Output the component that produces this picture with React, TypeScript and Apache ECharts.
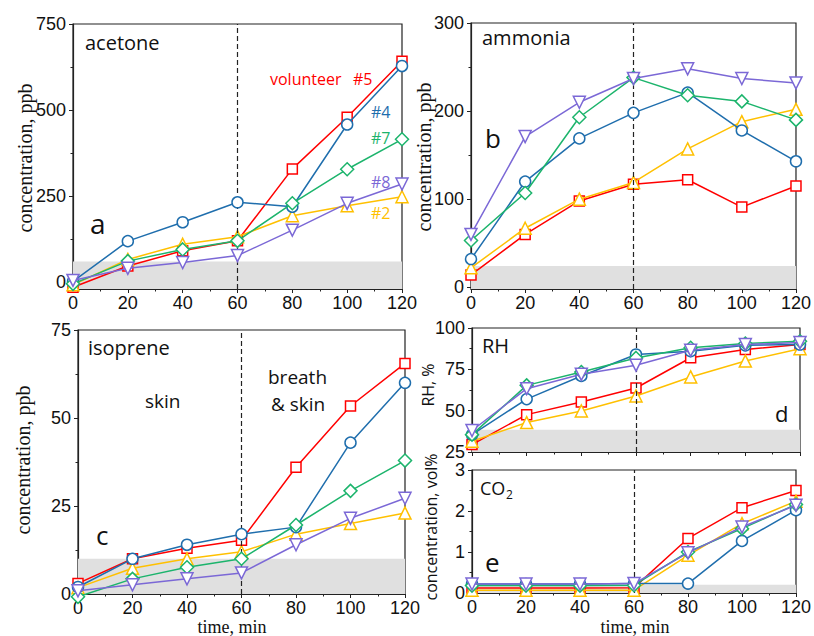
import React, { useEffect, useRef } from "react";
import * as echarts from "echarts";

const times = [0, 20, 40, 60, 80, 100, 120];
const xTicks = [0, 20, 40, 60, 80, 100, 120];

const volunteers = ["#5", "#2", "#4", "#7", "#8"];
const colors = ["#FF0000", "#FFC000", "#1F6EAD", "#1CB46C", "#7B68D6"];
const symbols = ["rect", "triangle", "circle", "diamond", "triangle"];
const symbolRot = [0, 0, 0, 0, 180];
const symbolSizes = [10, 12, 11, 13, 12];

// acetone, ppb
const acetone5 = [-15, 47, 91, 120, 329, 479, 642];
const acetone2 = [-8, 66, 110, 132, 193, 222, 248];
const acetone4 = [2, 119, 174, 232, 219, 458, 628];
const acetone7 = [-5, 61, 95, 120, 229, 328, 415];
const acetone8 = [5, 40, 57, 77, 151, 229, 285];

// ammonia, ppb
const ammonia5 = [14, 60, 98, 117, 122, 91, 115];
const ammonia2 = [22, 67, 100, 119, 157, 188, 202];
const ammonia4 = [32, 120, 169, 198, 221, 178, 143];
const ammonia7 = [53, 107, 193, 238, 218, 211, 190];
const ammonia8 = [60, 171, 210, 237, 248, 237, 232];

// isoprene, ppb
const isoprene5 = [3, 10, 13, 15.3, 36, 53.4, 65.5];
const isoprene2 = [1.8, 7.3, 10, 12, 17, 20, 23];
const isoprene4 = [2, 10, 14, 17, 19, 43, 60];
const isoprene7 = [-0.8, 4.3, 7.6, 10, 19.6, 29.3, 37.9];
const isoprene8 = [0.9, 2.6, 4.3, 6, 14, 21.5, 27.2];

// RH, %
const rh5 = [29.5, 47.6, 55.3, 63.7, 82, 87, 90];
const rh2 = [31.5, 42.8, 49.8, 58.9, 70.4, 80, 87.5];
const rh4 = [35.5, 57, 71, 84, 86, 89.5, 90];
const rh7 = [35.5, 65.3, 73.4, 81.9, 88, 90.6, 92];
const rh8 = [38, 63.3, 72, 77.5, 86.5, 90, 91.2];

// CO2, vol%
const co2_5 = [0.12, 0.12, 0.12, 0.13, 1.33, 2.08, 2.5];
const co2_2 = [0.07, 0.07, 0.07, 0.07, 0.92, 1.69, 2.24];
const co2_4 = [0.22, 0.22, 0.22, 0.23, 0.23, 1.27, 2.02];
const co2_7 = [0.18, 0.18, 0.18, 0.19, 1.0, 1.57, 2.16];
const co2_8 = [0.22, 0.22, 0.22, 0.23, 0.98, 1.61, 2.14];

// y axes: [min, max], major ticks, minor ticks, background level
const acetoneRange = [-20, 750];
const acetoneTicks = [0, 250, 500, 750];
const acetoneMinor = [125, 375, 625];
const acetoneBackground = 60;

const ammoniaRange = [-2, 300];
const ammoniaTicks = [0, 100, 200, 300];
const ammoniaMinor = [50, 150, 250];
const ammoniaBackground = 24;

const isopreneRange = [0, 75];
const isopreneTicks = [0, 25, 50, 75];
const isopreneMinor = [12.5, 37.5, 62.5];
const isopreneBackground = 10;

const rhRange = [25, 100];
const rhTicks = [25, 50, 75, 100];
const rhMinor = [37.5, 62.5, 87.5];
const rhBackground = 38.5;

const co2Range = [0, 3];
const co2Ticks = [0, 1, 2, 3];
const co2Minor = [0.5, 1.5, 2.5];
const co2Background = 0.2;

const SANS = "'Liberation Sans', Arial, sans-serif";
const LABEL = "'Open Sans', 'Noto Sans', sans-serif";
const SERIF = "'Liberation Serif', 'Times New Roman', serif";
const AXIS = "#222";

const panels = [
  {
    grid: { left: 73, top: 24, width: 329, height: 265 },
    range: acetoneRange, ticks: acetoneTicks, minor: acetoneMinor, bg: acetoneBackground,
    series: [acetone5, acetone2, acetone4, acetone7, acetone8], xLabels: true,
  },
  {
    grid: { left: 471, top: 23, width: 327, height: 266 },
    range: ammoniaRange, ticks: ammoniaTicks, minor: ammoniaMinor, bg: ammoniaBackground,
    series: [ammonia5, ammonia2, ammonia4, ammonia7, ammonia8], xLabels: true,
  },
  {
    grid: { left: 78, top: 330, width: 327, height: 264 },
    range: isopreneRange, ticks: isopreneTicks, minor: isopreneMinor, bg: isopreneBackground,
    series: [isoprene5, isoprene2, isoprene4, isoprene7, isoprene8], xLabels: true,
  },
  {
    grid: { left: 472, top: 328, width: 328, height: 124 },
    range: rhRange, ticks: rhTicks, minor: rhMinor, bg: rhBackground,
    series: [rh5, rh2, rh4, rh7, rh8], xLabels: false,
  },
  {
    grid: { left: 472, top: 470, width: 328, height: 123 },
    range: co2Range, ticks: co2Ticks, minor: co2Minor, bg: co2Background,
    series: [co2_5, co2_2, co2_4, co2_7, co2_8], xLabels: true,
  },
];

function text(x: number, y: number, t: string, size: number, color = "#111", font = LABEL, extra: any = {}) {
  return {
    type: "text",
    x,
    y,
    silent: true,
    style: {
      text: t,
      fill: color,
      fontSize: size,
      fontFamily: font,
      textAlign: "left",
      textVerticalAlign: "middle",
      ...extra,
    },
  };
}

function vtext(x: number, y: number, t: string, size: number, font: string) {
  return {
    type: "text",
    x,
    y,
    rotation: Math.PI / 2,
    silent: true,
    style: {
      text: t,
      fill: "#111",
      fontSize: size,
      fontFamily: font,
      textAlign: "center",
      textVerticalAlign: "middle",
    },
  };
}

function buildOption() {
  const grid: any[] = [];
  const xAxis: any[] = [];
  const yAxis: any[] = [];
  const series: any[] = [];

  panels.forEach((p, i) => {
    grid.push({ ...p.grid, show: true, borderColor: AXIS, borderWidth: 1.2, backgroundColor: "transparent" });
    xAxis.push({
      type: "value",
      gridIndex: i,
      min: 0,
      max: 120,
      interval: 20,
      axisLine: { onZero: false, lineStyle: { color: AXIS, width: 1.2 } },
      axisTick: { show: true, inside: false, length: 4, lineStyle: { color: AXIS } },
      minorTick: { show: true, splitNumber: 2, length: 2.5, lineStyle: { color: AXIS } },
      splitLine: { show: false },
      axisLabel: {
        show: p.xLabels,
        margin: 5,
        color: "#111",
        fontSize: 18,
        fontFamily: SANS,
        customValues: xTicks,
      },
    });
    yAxis.push({
      type: "value",
      gridIndex: i,
      min: p.range[0],
      max: p.range[1],
      axisLine: { onZero: false, lineStyle: { color: AXIS, width: 1.2 } },
      axisTick: { show: true, inside: false, length: 4, lineStyle: { color: AXIS }, customValues: p.ticks },
      splitLine: { show: false },
      axisLabel: { margin: 7, color: "#111", fontSize: 18, fontFamily: SANS, customValues: p.ticks },
    });
    yAxis.push({
      type: "value",
      gridIndex: i,
      min: p.range[0],
      max: p.range[1],
      position: "left",
      axisLine: { show: false },
      axisTick: { show: true, inside: false, length: 2.5, lineStyle: { color: AXIS }, customValues: p.minor },
      splitLine: { show: false },
      axisLabel: { show: false, customValues: p.minor },
    });
    const yIdx = i * 2;
    series.push({
      type: "line",
      xAxisIndex: i,
      yAxisIndex: yIdx,
      data: [],
      z: 1,
      silent: true,
      markArea: {
        silent: true,
        itemStyle: { color: "#e0e0e0" },
        data: [[{ yAxis: p.range[0] }, { yAxis: p.bg }]],
      },
      markLine: {
        silent: true,
        symbol: ["none", "none"],
        label: { show: false },
        lineStyle: { type: [5, 3], color: "#222", width: 1.2 },
        data: [{ xAxis: 60 }],
      },
    });
    p.series.forEach((vals, k) => {
      series.push({
        type: "line",
        name: volunteers[k],
        xAxisIndex: i,
        yAxisIndex: yIdx,
        z: 3 + k,
        clip: false,
        data: times.map((t, j) => [t, vals[j]]),
        symbol: symbols[k],
        symbolSize: symbolSizes[k],
        symbolRotate: symbolRot[k],
        showAllSymbol: true,
        lineStyle: { color: colors[k], width: 1.5 },
        itemStyle: { color: "#fff", borderColor: colors[k], borderWidth: 1.5 },
        emphasis: { disabled: true },
      });
    });
  });

  const graphic: any[] = [
    // panel a
    text(85, 42, "acetone", 20),
    text(90, 223, "a", 28),
    text(270, 79, "volunteer", 16, colors[0]),
    text(353, 79, "#5", 16, colors[0]),
    text(371, 112, "#4", 16, colors[2]),
    text(371, 138, "#7", 16, colors[3]),
    text(371, 182, "#8", 16, colors[4]),
    text(371, 213, "#2", 16, colors[1]),
    text(302, 275, "background", 15, "#222"),
    vtext(25, 158, "concentration, ppb", 20, SERIF),
    // panel b
    text(482, 37, "ammonia", 20),
    text(485, 138, "b", 26),
    vtext(424, 157, "concentration, ppb", 20, SERIF),
    // panel c
    text(88, 347, "isoprene", 20),
    text(145, 401, "skin", 19),
    text(268, 377, "breath", 19),
    text(271, 404, "& skin", 19),
    text(96, 535, "c", 26),
    vtext(23, 460, "concentration, ppb", 20, SERIF),
    {
      type: "text", x: 232, y: 626.5, silent: true,
      style: { text: "time, min", fill: "#111", fontSize: 18, fontFamily: SERIF, textAlign: "center", textVerticalAlign: "middle" },
    },
    // panel d
    text(482, 345, "RH", 20),
    text(775, 413, "d", 22),
    vtext(428, 385, "RH, %", 16, LABEL),
    // panel e
    text(480, 488, "CO", 18),
    text(506, 494, "2", 12),
    text(485, 562, "e", 26),
    vtext(431, 527, "concentration, vol%", 16, LABEL),
    {
      type: "text", x: 635, y: 626.5, silent: true,
      style: { text: "time, min", fill: "#111", fontSize: 18, fontFamily: SERIF, textAlign: "center", textVerticalAlign: "middle" },
    },
  ];

  return {
    animation: false,
    backgroundColor: "#fff",
    grid,
    xAxis,
    yAxis,
    series,
    graphic,
  };
}

export default function App() {
  const ref = useRef<HTMLDivElement>(null);
  useEffect(() => {
    if (!ref.current) return;
    const chart = echarts.init(ref.current, null, { renderer: "svg" });
    chart.setOption(buildOption() as any);
    return () => chart.dispose();
  }, []);
  return (
    <div
      ref={ref}
      style={{ position: "fixed", left: 0, top: 0, width: 814, height: 636, background: "#fff" }}
    />
  );
}
